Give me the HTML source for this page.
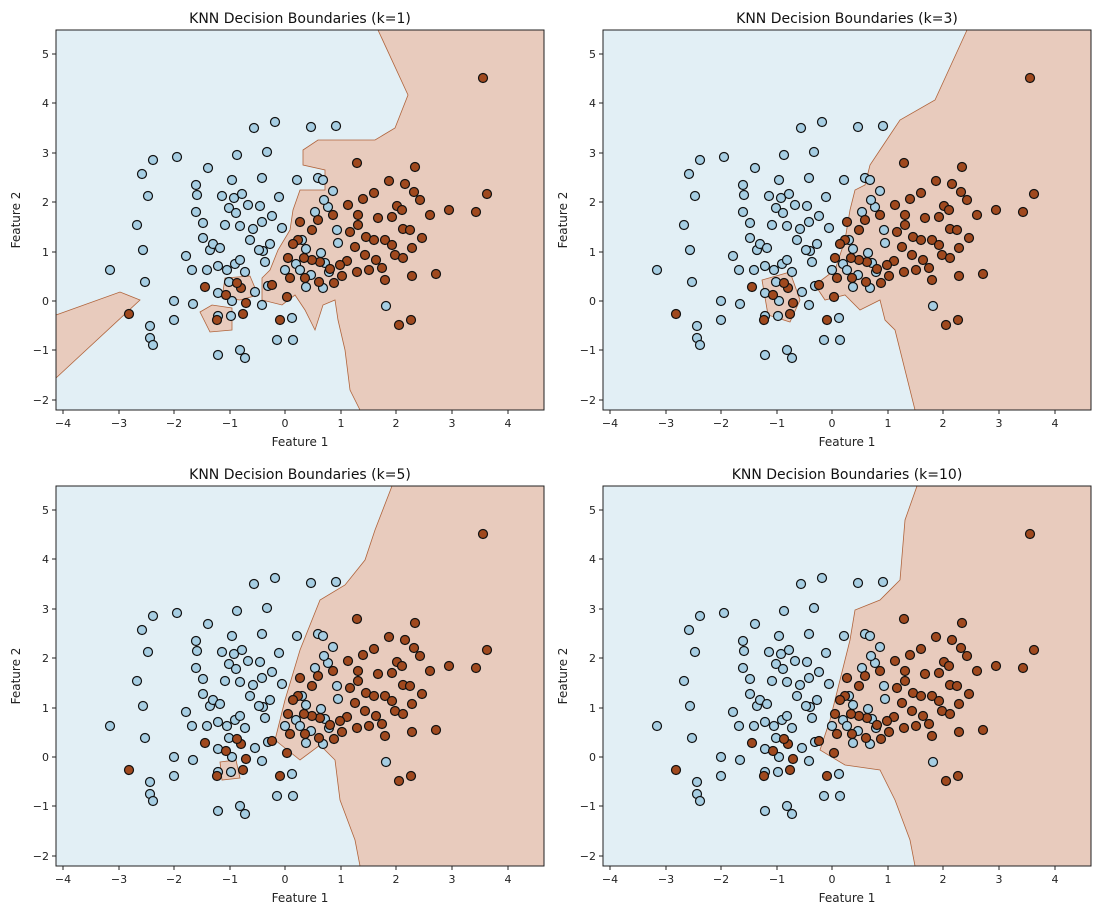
<!DOCTYPE html>
<html><head><meta charset="utf-8"><style>
html,body{margin:0;padding:0;background:#fff;}
svg{display:block;font-family:"DejaVu Sans","Liberation Sans",sans-serif;}
</style></head><body>
<svg width="1100" height="916" viewBox="0 0 1100 916" xmlns="http://www.w3.org/2000/svg">
<defs>
<g id="axes">
  <g font-size="11" fill="#222" text-anchor="middle">
    <text x="63" y="427">−4</text><text x="119" y="427">−3</text><text x="174" y="427">−2</text><text x="230" y="427">−1</text><text x="285" y="427">0</text><text x="341" y="427">1</text><text x="396" y="427">2</text><text x="452" y="427">3</text><text x="508" y="427">4</text>
  </g>
  <g stroke="#222" stroke-width="1">
    <line x1="63" y1="410" x2="63" y2="414"/><line x1="119" y1="410" x2="119" y2="414"/><line x1="174" y1="410" x2="174" y2="414"/><line x1="230" y1="410" x2="230" y2="414"/><line x1="285" y1="410" x2="285" y2="414"/><line x1="341" y1="410" x2="341" y2="414"/><line x1="396" y1="410" x2="396" y2="414"/><line x1="452" y1="410" x2="452" y2="414"/><line x1="508" y1="410" x2="508" y2="414"/>
    <line x1="52" y1="54" x2="56" y2="54"/><line x1="52" y1="103" x2="56" y2="103"/><line x1="52" y1="153" x2="56" y2="153"/><line x1="52" y1="202" x2="56" y2="202"/><line x1="52" y1="252" x2="56" y2="252"/><line x1="52" y1="301" x2="56" y2="301"/><line x1="52" y1="350" x2="56" y2="350"/><line x1="52" y1="400" x2="56" y2="400"/>
  </g>
  <g font-size="11" fill="#222" text-anchor="end">
    <text x="49" y="58">5</text><text x="49" y="107">4</text><text x="49" y="157">3</text><text x="49" y="206">2</text><text x="49" y="256">1</text><text x="49" y="305">0</text><text x="49" y="354">−1</text><text x="49" y="404">−2</text>
  </g>
  <text x="300" y="446" font-size="12" fill="#222" text-anchor="middle">Feature 1</text>
  <text transform="translate(20,220) rotate(-90)" font-size="12" fill="#222" text-anchor="middle">Feature 2</text>
  <rect x="56" y="30" width="488" height="380" fill="none" stroke="#222" stroke-width="1"/>
</g>
<g id="pts" stroke="#111" stroke-width="1.2">
 <g fill="#a6cee3">
  <circle cx="110" cy="270" r="4.5"/><circle cx="137" cy="225" r="4.5"/><circle cx="142" cy="174" r="4.5"/><circle cx="148" cy="196" r="4.5"/><circle cx="153" cy="160" r="4.5"/><circle cx="143" cy="250" r="4.5"/><circle cx="145" cy="282" r="4.5"/><circle cx="150" cy="326" r="4.5"/><circle cx="150" cy="338" r="4.5"/><circle cx="153" cy="345" r="4.5"/><circle cx="177" cy="157" r="4.5"/><circle cx="174" cy="301" r="4.5"/><circle cx="174" cy="320" r="4.5"/><circle cx="186" cy="256" r="4.5"/><circle cx="192" cy="270" r="4.5"/><circle cx="193" cy="304" r="4.5"/><circle cx="196" cy="212" r="4.5"/><circle cx="197" cy="195" r="4.5"/><circle cx="196" cy="185" r="4.5"/><circle cx="203" cy="223" r="4.5"/><circle cx="203" cy="238" r="4.5"/><circle cx="207" cy="270" r="4.5"/><circle cx="208" cy="168" r="4.5"/><circle cx="210" cy="250" r="4.5"/><circle cx="213" cy="244" r="4.5"/><circle cx="218" cy="266" r="4.5"/><circle cx="220" cy="248" r="4.5"/><circle cx="218" cy="293" r="4.5"/><circle cx="222" cy="196" r="4.5"/><circle cx="225" cy="225" r="4.5"/><circle cx="227" cy="270" r="4.5"/><circle cx="229" cy="208" r="4.5"/><circle cx="232" cy="180" r="4.5"/><circle cx="234" cy="198" r="4.5"/><circle cx="229" cy="282" r="4.5"/><circle cx="235" cy="264" r="4.5"/><circle cx="237" cy="155" r="4.5"/><circle cx="236" cy="213" r="4.5"/><circle cx="240" cy="226" r="4.5"/><circle cx="240" cy="260" r="4.5"/><circle cx="242" cy="194" r="4.5"/><circle cx="245" cy="272" r="4.5"/><circle cx="248" cy="205" r="4.5"/><circle cx="250" cy="240" r="4.5"/><circle cx="254" cy="128" r="4.5"/><circle cx="260" cy="206" r="4.5"/><circle cx="262" cy="178" r="4.5"/><circle cx="267" cy="152" r="4.5"/><circle cx="263" cy="251" r="4.5"/><circle cx="265" cy="262" r="4.5"/><circle cx="270" cy="244" r="4.5"/><circle cx="272" cy="216" r="4.5"/><circle cx="275" cy="122" r="4.5"/><circle cx="277" cy="340" r="4.5"/><circle cx="279" cy="197" r="4.5"/><circle cx="282" cy="228" r="4.5"/><circle cx="268" cy="286" r="4.5"/><circle cx="262" cy="305" r="4.5"/><circle cx="293" cy="340" r="4.5"/><circle cx="292" cy="318" r="4.5"/><circle cx="296" cy="264" r="4.5"/><circle cx="297" cy="180" r="4.5"/><circle cx="300" cy="270" r="4.5"/><circle cx="306" cy="287" r="4.5"/><circle cx="311" cy="127" r="4.5"/><circle cx="318" cy="178" r="4.5"/><circle cx="321" cy="253" r="4.5"/><circle cx="323" cy="288" r="4.5"/><circle cx="336" cy="126" r="4.5"/><circle cx="328" cy="207" r="4.5"/><circle cx="325" cy="263" r="4.5"/><circle cx="333" cy="191" r="4.5"/><circle cx="338" cy="243" r="4.5"/><circle cx="329" cy="272" r="4.5"/><circle cx="386" cy="306" r="4.5"/><circle cx="285" cy="270" r="4.5"/><circle cx="262" cy="222" r="4.5"/><circle cx="245" cy="358" r="4.5"/><circle cx="240" cy="350" r="4.5"/><circle cx="218" cy="355" r="4.5"/><circle cx="232" cy="301" r="4.5"/><circle cx="255" cy="292" r="4.5"/><circle cx="218" cy="316" r="4.5"/><circle cx="231" cy="316" r="4.5"/><circle cx="259" cy="250" r="4.5"/><circle cx="253" cy="229" r="4.5"/><circle cx="323" cy="180" r="4.5"/><circle cx="337" cy="230" r="4.5"/><circle cx="324" cy="200" r="4.5"/><circle cx="315" cy="212" r="4.5"/><circle cx="302" cy="240" r="4.5"/><circle cx="306" cy="249" r="4.5"/><circle cx="311" cy="275" r="4.5"/>
 </g>
 <g fill="#a0491e">
  <circle cx="483" cy="78" r="4.5"/><circle cx="487" cy="194" r="4.5"/><circle cx="476" cy="212" r="4.5"/><circle cx="449" cy="210" r="4.5"/><circle cx="357" cy="163" r="4.5"/><circle cx="415" cy="167" r="4.5"/><circle cx="405" cy="184" r="4.5"/><circle cx="414" cy="192" r="4.5"/><circle cx="397" cy="206" r="4.5"/><circle cx="389" cy="181" r="4.5"/><circle cx="374" cy="193" r="4.5"/><circle cx="363" cy="199" r="4.5"/><circle cx="358" cy="215" r="4.5"/><circle cx="348" cy="205" r="4.5"/><circle cx="333" cy="215" r="4.5"/><circle cx="358" cy="225" r="4.5"/><circle cx="378" cy="218" r="4.5"/><circle cx="392" cy="217" r="4.5"/><circle cx="402" cy="210" r="4.5"/><circle cx="403" cy="229" r="4.5"/><circle cx="385" cy="240" r="4.5"/><circle cx="395" cy="255" r="4.5"/><circle cx="376" cy="260" r="4.5"/><circle cx="365" cy="255" r="4.5"/><circle cx="355" cy="247" r="4.5"/><circle cx="347" cy="261" r="4.5"/><circle cx="340" cy="265" r="4.5"/><circle cx="330" cy="269" r="4.5"/><circle cx="320" cy="262" r="4.5"/><circle cx="312" cy="260" r="4.5"/><circle cx="304" cy="258" r="4.5"/><circle cx="298" cy="240" r="4.5"/><circle cx="293" cy="244" r="4.5"/><circle cx="300" cy="222" r="4.5"/><circle cx="288" cy="258" r="4.5"/><circle cx="290" cy="278" r="4.5"/><circle cx="312" cy="230" r="4.5"/><circle cx="318" cy="220" r="4.5"/><circle cx="287" cy="297" r="4.5"/><circle cx="280" cy="320" r="4.5"/><circle cx="272" cy="285" r="4.5"/><circle cx="241" cy="288" r="4.5"/><circle cx="237" cy="283" r="4.5"/><circle cx="226" cy="295" r="4.5"/><circle cx="217" cy="320" r="4.5"/><circle cx="246" cy="303" r="4.5"/><circle cx="243" cy="314" r="4.5"/><circle cx="205" cy="287" r="4.5"/><circle cx="129" cy="314" r="4.5"/><circle cx="412" cy="276" r="4.5"/><circle cx="399" cy="325" r="4.5"/><circle cx="411" cy="320" r="4.5"/><circle cx="436" cy="274" r="4.5"/><circle cx="422" cy="238" r="4.5"/><circle cx="430" cy="215" r="4.5"/><circle cx="412" cy="248" r="4.5"/><circle cx="403" cy="258" r="4.5"/><circle cx="382" cy="268" r="4.5"/><circle cx="369" cy="270" r="4.5"/><circle cx="357" cy="272" r="4.5"/><circle cx="342" cy="276" r="4.5"/><circle cx="334" cy="283" r="4.5"/><circle cx="319" cy="282" r="4.5"/><circle cx="305" cy="278" r="4.5"/><circle cx="366" cy="237" r="4.5"/><circle cx="350" cy="232" r="4.5"/><circle cx="410" cy="230" r="4.5"/><circle cx="420" cy="200" r="4.5"/><circle cx="392" cy="245" r="4.5"/><circle cx="385" cy="280" r="4.5"/><circle cx="374" cy="240" r="4.5"/>
 </g>
</g>
</defs>

<!-- backgrounds -->
<g fill="#e2eff5">
<rect x="56" y="30" width="488" height="380"/><rect x="603" y="30" width="488" height="380"/>
<rect x="56" y="486" width="488" height="380"/><rect x="603" y="486" width="488" height="380"/>
</g>
<g fill="#e8cbbd" stroke="#b0643c" stroke-width="0.8">
<!-- k=1 -->
<polygon points="378,30 544,30 544,410 360,410 350,390 345,350 338,320 335,300 323,305 315,330 305,310 295,295 282,305 262,300 262,278 270,270 278,250 290,230 293,210 300,190 325,190 325,170 303,165 303,150 318,140 375,140 395,128 408,95"/>
<polygon points="200,312 212,305 232,308 232,330 210,332"/>
<polygon points="56,315 120,292 140,300 56,378"/>
<polygon points="225,278 250,276 258,295 240,300 222,298"/>
<!-- k=3 -->
<polygon points="967,30 1091,30 1091,410 915,410 905,370 895,330 885,320 880,300 860,310 845,295 825,300 815,285 835,270 845,240 850,210 855,190 865,185 870,165 880,150 900,120 935,100"/>
<polygon points="762,280 790,272 800,300 790,322 768,315"/>
<!-- k=5 -->
<polygon points="392,486 544,486 544,866 360,866 355,840 340,800 335,760 320,745 300,760 275,740 285,700 300,650 310,625 320,600 345,585 365,560 375,530"/>
<polygon points="220,762 236,760 240,778 222,780"/>
<!-- k=10 -->
<polygon points="917,486 1091,486 1091,866 915,866 910,840 895,800 880,770 845,765 820,750 830,720 840,680 850,640 855,610 880,600 900,580 905,520"/>
</g>

<use href="#pts"/>
<use href="#pts" transform="translate(547,0)"/>
<use href="#pts" transform="translate(0,456)"/>
<use href="#pts" transform="translate(547,456)"/>

<use href="#axes"/>
<use href="#axes" transform="translate(547,0)"/>
<use href="#axes" transform="translate(0,456)"/>
<use href="#axes" transform="translate(547,456)"/>

<g font-size="14" fill="#111" text-anchor="middle">
<text x="300" y="23">KNN Decision Boundaries (k=1)</text>
<text x="847" y="23">KNN Decision Boundaries (k=3)</text>
<text x="300" y="479">KNN Decision Boundaries (k=5)</text>
<text x="847" y="479">KNN Decision Boundaries (k=10)</text>
</g>
</svg>
</body></html>
